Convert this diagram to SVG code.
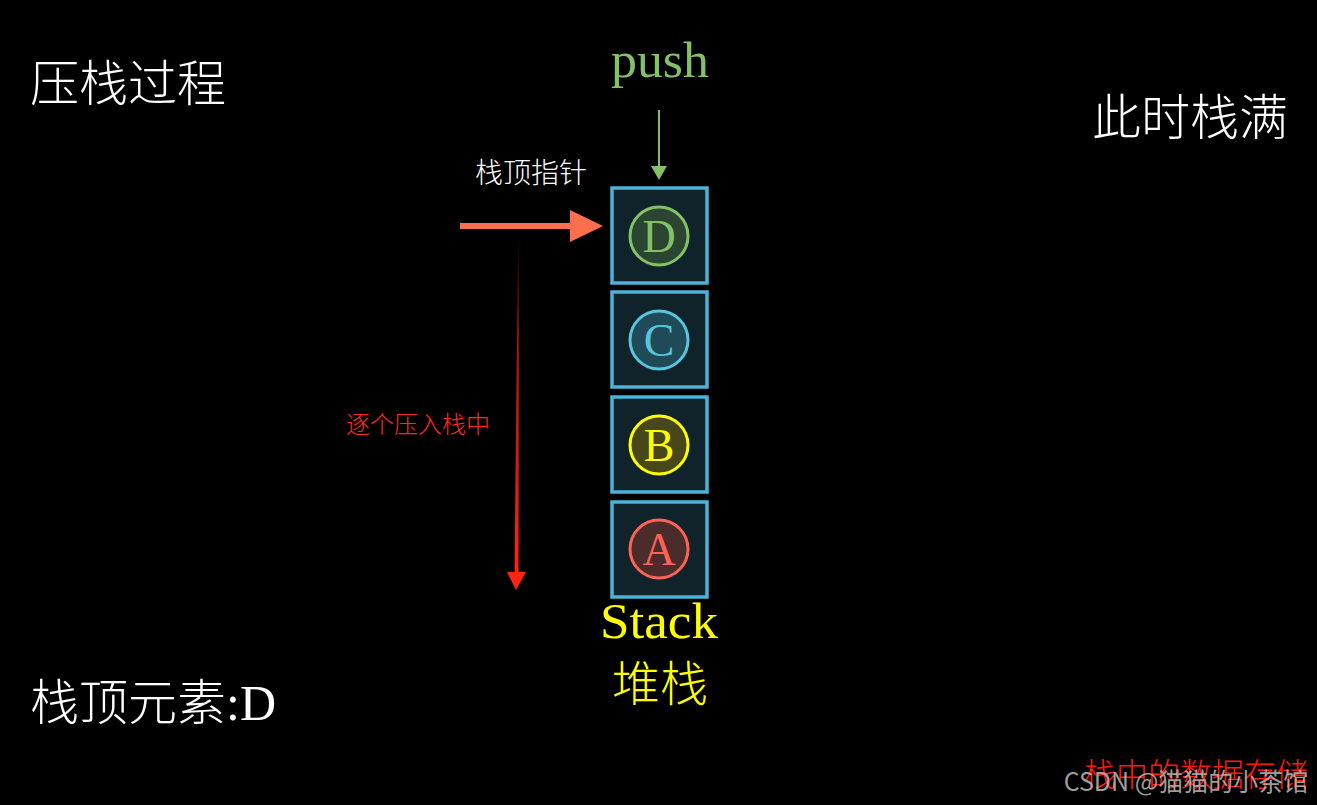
<svg xmlns="http://www.w3.org/2000/svg" width="1317" height="805" viewBox="0 0 1317 805">
<style>
.cjk{font-family:"Noto Sans CJK SC","Noto Sans CJK JP",sans-serif;font-weight:300}
.ser{font-family:"Liberation Serif","DejaVu Serif",serif}
.box{fill:#11232A;stroke:#4CB3D8;stroke-width:3.5}
.lt{font-family:"Liberation Serif",serif;font-size:46px;text-anchor:middle}
</style>
<defs>
<linearGradient id="redgrad" x1="0" y1="0" x2="0" y2="1">
<stop offset="0" stop-color="#000"/>
<stop offset="0.35" stop-color="#B0140A"/>
<stop offset="1" stop-color="#FF2412"/>
</linearGradient>
</defs>
<rect width="1317" height="805" fill="#000"/>
<text class="cjk" x="30" y="101" font-size="49" fill="#fff">压栈过程</text>
<text class="cjk" x="1092" y="135" font-size="49" fill="#fff">此时栈满</text>
<text class="cjk" x="30" y="720" font-size="49" fill="#fff">栈顶元素<tspan class="ser" font-size="50">:D</tspan></text>
<text class="ser" x="660" y="77" font-size="50" fill="#83C167" text-anchor="middle" textLength="98" lengthAdjust="spacingAndGlyphs">push</text>
<text class="cjk" x="531" y="183" font-size="28" fill="#fff" text-anchor="middle">栈顶指针</text>
<text class="cjk" x="418" y="433" font-size="24" fill="#FF2A1A" text-anchor="middle" font-weight="400">逐个压入栈中</text>
<g id="connectors">
<line x1="659" y1="110" x2="659" y2="168" stroke="#83C167" stroke-width="2"/>
<polygon points="651,166 667,166 659,180" fill="#83C167"/>
<line x1="460" y1="226" x2="574" y2="226" stroke="#FF6E4F" stroke-width="6"/>
<polygon points="570,210 603,226 570,242" fill="#FF6E4F"/>
<polygon points="518,234 519,234 518.5,575 514.5,575" fill="url(#redgrad)"/>
<polygon points="507,572 526,572 516,590" fill="#FF2412"/>
</g>
<g id="nodeD">
<rect class="box" x="612" y="188" width="95" height="95"/>
<circle cx="659" cy="236" r="29" fill="#2B4530" stroke="#83C167" stroke-width="3"/>
<text class="lt" x="659" y="252" fill="#83C167">D</text>
</g>
<g id="nodeC">
<rect class="box" x="612" y="292" width="95" height="95"/>
<circle cx="659" cy="340" r="29" fill="#1F4A57" stroke="#58C4DD" stroke-width="3"/>
<text class="lt" x="659" y="356" fill="#58C4DD">C</text>
</g>
<g id="nodeB">
<rect class="box" x="612" y="397" width="95" height="95"/>
<circle cx="659" cy="445" r="29" fill="#47471A" stroke="#FFFF00" stroke-width="3"/>
<text class="lt" x="659" y="461" fill="#FFFF00">B</text>
</g>
<g id="nodeA">
<rect class="box" x="612" y="502" width="95" height="95"/>
<circle cx="659" cy="549" r="29" fill="#4A2C2A" stroke="#FC6255" stroke-width="3"/>
<text class="lt" x="659" y="565" fill="#FC6255">A</text>
</g>
<g id="label">
<text class="ser" x="659" y="638" font-size="50" fill="#FFFF00" text-anchor="middle" textLength="118" lengthAdjust="spacingAndGlyphs">Stack</text>
<text class="cjk" x="660" y="701" font-size="48" fill="#FFFF00" text-anchor="middle">堆栈</text>
</g>
<text class="cjk" x="1196" y="786" font-size="32" fill="#FF1A0A" text-anchor="middle" font-weight="400">栈中的数据存储</text>
<text x="1186" y="791" font-size="25" fill="#BBBBBB" fill-opacity="0.85" text-anchor="middle" font-family="'Noto Sans CJK SC',sans-serif">CSDN @猫猫的小茶馆</text>
</svg>
